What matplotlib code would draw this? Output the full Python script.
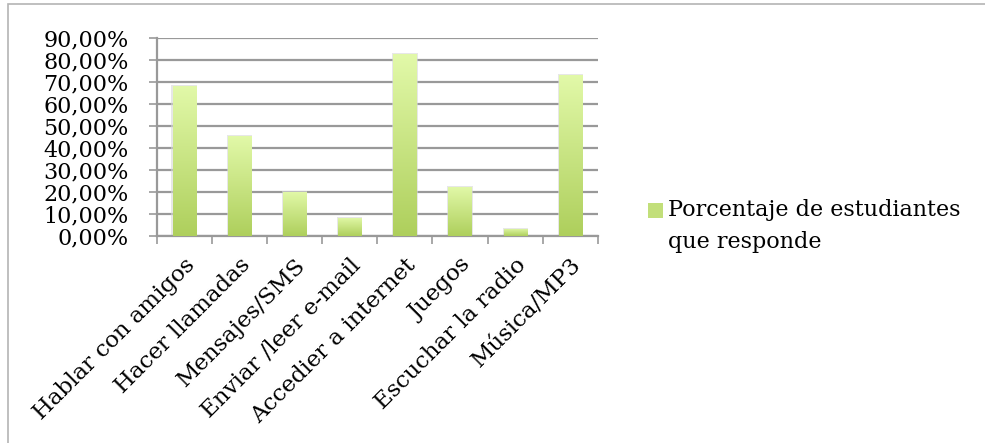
import numpy as np
import matplotlib
matplotlib.use("Agg")
import matplotlib.pyplot as plt
from matplotlib.patches import Rectangle
from matplotlib.colors import LinearSegmentedColormap
from matplotlib.ticker import FuncFormatter, MultipleLocator

categories = ["Hablar con amigos", "Hacer llamadas", "Mensajes/SMS",
              "Enviar /leer e-mail", "Accedier a internet", "Juegos",
              "Escuchar la radio", "Música/MP3"]
values = [0.682, 0.455, 0.201, 0.082, 0.827, 0.223, 0.032, 0.732]
series_name = "Porcentaje de estudiantes\nque responde"

W, H = 985, 443
DPI = 100
plt.rcParams["font.family"] = ["DejaVu Serif"]
fig = plt.figure(figsize=(W / DPI, H / DPI), dpi=DPI)

# outer frame of the chart area
fig.patches.append(Rectangle((8 / W, -0.1), 1.2, 1.1 - 4 / H, transform=fig.transFigure,
                             fill=False, edgecolor="#b4b4b4", linewidth=1.2))

ax = fig.add_axes([156.5 / W, 1 - 236 / H, (598 - 156.5) / W, (236 - 38) / H])
ax.set_xlim(-0.5, len(categories) - 0.5)
ax.set_ylim(0, 0.9)

green = LinearSegmentedColormap.from_list("g", ["#aecf5c", "#e2f9a9"])
grad = np.linspace(0, 1, 256).reshape(-1, 1)

x = np.arange(len(categories))
bars = ax.bar(x, values, width=0.42, color="#c6e27f", zorder=3, linewidth=0)
for b in bars:
    b.set_facecolor("none")
    x0, y0 = b.get_x(), b.get_y()
    w, h = b.get_width(), b.get_height()
    # soft shadow
    sh = Rectangle((x0 - 0.02, y0), w + 0.04, h + 0.003, facecolor="#d8d8d8",
                   edgecolor="none", alpha=0.6, zorder=2.5)
    ax.add_patch(sh)
    im = ax.imshow(grad, cmap=green, origin="lower", aspect="auto",
                   extent=(x0, x0 + w, y0, y0 + h), zorder=3)
    im.set_clip_path(b)

ax.yaxis.set_major_locator(MultipleLocator(0.1))
ax.yaxis.set_major_formatter(FuncFormatter(lambda v, p: f"{v*100:.2f}%".replace(".", ",")))
ax.grid(axis="y", color="#999999", linewidth=1.6, zorder=1)
ax.set_axisbelow(True)

ax.set_xticks(np.arange(-0.5, len(categories) + 0.5, 1.0))
ax.set_xticklabels([])
ax.set_xticks(x, minor=True)
ax.set_xticklabels(categories, minor=True, rotation=45, ha="right",
                   rotation_mode="anchor", fontsize=16.5)
ax.tick_params(axis="x", which="minor", length=0, pad=13)
ax.tick_params(axis="x", which="major", length=6, width=1.2, color="#999999", direction="out")
ax.tick_params(axis="y", length=6, width=1.2, color="#999999", labelsize=16, pad=14)

for s in ["top", "right"]:
    ax.spines[s].set_visible(False)
for s in ["left", "bottom"]:
    ax.spines[s].set_color("#999999")
    ax.spines[s].set_linewidth(1.6)

# legend
fig.patches.append(Rectangle((648 / W, 1 - 218 / H), 15 / W, 15 / H,
                             transform=fig.transFigure, facecolor="#c2df7a",
                             edgecolor="none"))
fig.text(668 / W, 1 - 199 / H, series_name, ha="left", va="top",
         fontsize=16, linespacing=1.6)

fig.savefig("out.png", dpi=DPI, facecolor="white")
